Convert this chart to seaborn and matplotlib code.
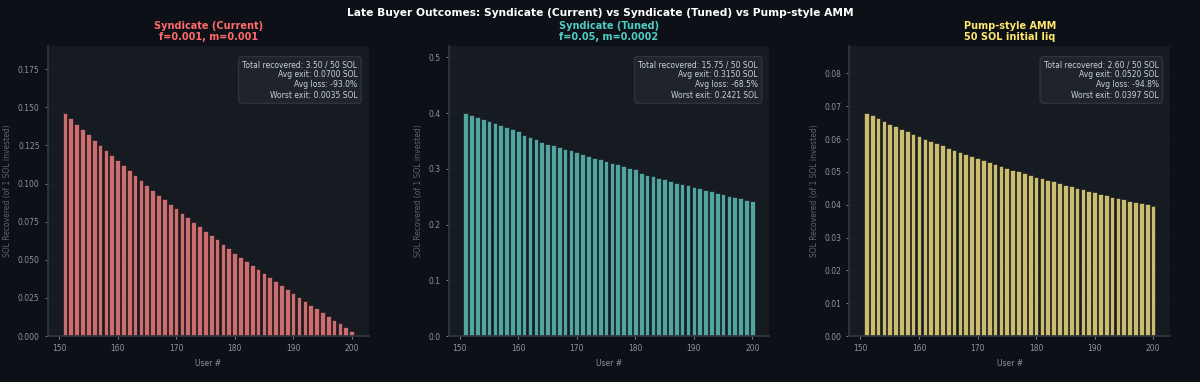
import numpy as np
import matplotlib
matplotlib.use("Agg")
import matplotlib.pyplot as plt
import seaborn as sns

# Late buyers: users 151..200, each put in 1 SOL
users = list(range(151, 201))

syndicate_current = [
    0.1463, 0.1428, 0.1392, 0.1357, 0.1322, 0.1287, 0.1255, 0.1218, 0.1185, 0.1153,
    0.1120, 0.1087, 0.1055, 0.1022, 0.0992, 0.0959, 0.0928, 0.0898, 0.0868, 0.0840,
    0.0807, 0.0778, 0.0748, 0.0720, 0.0690, 0.0662, 0.0634, 0.0603, 0.0575, 0.0546,
    0.0520, 0.0492, 0.0466, 0.0440, 0.0413, 0.0385, 0.0359, 0.0332, 0.0309, 0.0283,
    0.0257, 0.0232, 0.0206, 0.0182, 0.0156, 0.0130, 0.0108, 0.0084, 0.0058, 0.0035,
]

syndicate_tuned = [
    0.4004, 0.3968, 0.3932, 0.3896, 0.3855, 0.3819, 0.3788, 0.3752, 0.3711, 0.3670,
    0.3598, 0.3562, 0.3526, 0.3490, 0.3454, 0.3424, 0.3388, 0.3357, 0.3329, 0.3298,
    0.3268, 0.3239, 0.3203, 0.3178, 0.3136, 0.3113, 0.3083, 0.3052, 0.3023, 0.2993,
    0.2933, 0.2898, 0.2867, 0.2844, 0.2813, 0.2783, 0.2754, 0.2729, 0.2706, 0.2675,
    0.2652, 0.2621, 0.2598, 0.2575, 0.2549, 0.2521, 0.2496, 0.2472, 0.2442, 0.2421,
]

pump_amm = [
    0.0680, 0.0672, 0.0664, 0.0655, 0.0647, 0.0639, 0.0631, 0.0624, 0.0617, 0.0609,
    0.0600, 0.0594, 0.0587, 0.0581, 0.0574, 0.0568, 0.0561, 0.0555, 0.0548, 0.0542,
    0.0537, 0.0530, 0.0524, 0.0519, 0.0513, 0.0507, 0.0502, 0.0496, 0.0491, 0.0485,
    0.0481, 0.0475, 0.0471, 0.0466, 0.0461, 0.0457, 0.0452, 0.0447, 0.0443, 0.0438,
    0.0434, 0.0429, 0.0425, 0.0421, 0.0417, 0.0413, 0.0410, 0.0406, 0.0402, 0.0397,
]

panel_titles = [
    "Syndicate (Current)\nf=0.001, m=0.001",
    "Syndicate (Tuned)\nf=0.05, m=0.0002",
    "Pump-style AMM\n50 SOL initial liq",
]
panel_colors = ["#ff6b6b", "#4ecdc4", "#ffe66d"]
panel_data = [syndicate_current, syndicate_tuned, pump_amm]

# summary figures as printed in each panel's box
total_recovered = [3.50, 15.75, 2.60]
avg_exit = [0.0700, 0.3150, 0.0520]
avg_loss = [-93.0, -68.5, -94.8]
worst_exit = [0.0035, 0.2421, 0.0397]

BG = "#0d1117"
AX_BG = "#161b22"
MUTED = "#8b949e"

sns.set_theme(style="dark", rc={
    "figure.facecolor": BG,
    "axes.facecolor": AX_BG,
    "axes.edgecolor": "#30363d",
    "axes.labelcolor": MUTED,
    "xtick.color": MUTED,
    "ytick.color": MUTED,
    "text.color": "#c9d1d9",
})
plt.rcParams["font.family"] = ["DejaVu Sans"]


def main():
    fig, axes = plt.subplots(1, 3, figsize=(12, 3.82), dpi=100)
    fig.subplots_adjust(left=0.04, right=0.975, top=0.88, bottom=0.12, wspace=0.25)

    for i, (ax, vals, title, color) in enumerate(zip(axes, panel_data, panel_titles, panel_colors)):
        sns.barplot(x=users, y=vals, native_scale=True, color=color, alpha=0.85,
                    edgecolor=BG, linewidth=0.5, ax=ax, zorder=2)
        ax.set_ylim(0, max(vals) * 1.3)
        ax.set_xticks([150, 160, 170, 180, 190, 200])
        ax.yaxis.grid(True, color="#1b2027", linewidth=0.6, zorder=0)
        ax.set_axisbelow(True)
        for side in ["top", "right"]:
            ax.spines[side].set_visible(False)
        for side in ["left", "bottom"]:
            ax.spines[side].set_color("#30363d")
        ax.tick_params(axis="both", labelsize=5.5, length=2.5, width=0.6,
                       colors=MUTED, bottom=True, left=True)
        ax.set_xlabel("User #", fontsize=5.5, color=MUTED)
        ax.set_ylabel("SOL Recovered (of 1 SOL invested)", fontsize=5.5, color="#5c636b")
        ax.set_title(title, fontsize=7, fontweight="bold", color=color, pad=4,
                     linespacing=1.1)

        stats = (f"Total recovered: {total_recovered[i]:.2f} / 50 SOL\n"
                 f"Avg exit: {avg_exit[i]:.4f} SOL\n"
                 f"Avg loss: {avg_loss[i]:.1f}%\n"
                 f"Worst exit: {worst_exit[i]:.4f} SOL")
        ax.text(0.965, 0.95, stats, transform=ax.transAxes, ha="right", va="top",
                fontsize=5.5, color="#c9d1d9", linespacing=1.15,
                bbox=dict(boxstyle="round,pad=0.5", facecolor="#21262d",
                          edgecolor="#30363d", alpha=0.9))

    fig.suptitle("Late Buyer Outcomes: Syndicate (Current) vs Syndicate (Tuned) vs Pump-style AMM",
                 fontsize=7.7, fontweight="bold", color="white", y=0.98)
    fig.savefig("out.png", dpi=100, facecolor=BG)


if __name__ == "__main__":
    main()
